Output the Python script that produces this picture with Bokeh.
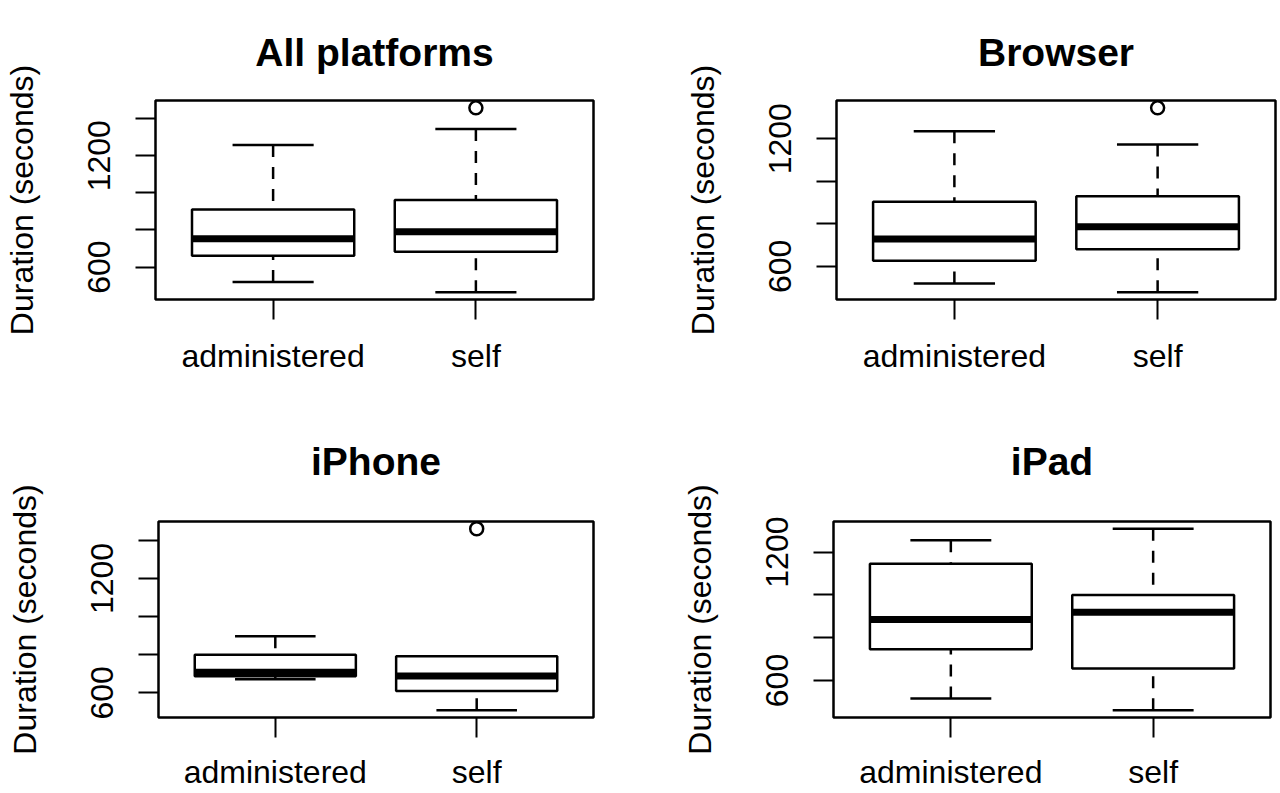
from bokeh.plotting import figure
from bokeh.layouts import column, row
from bokeh.models import Range1d, FixedTicker, ColumnDataSource
from bokeh.embed import file_html
from bokeh.resources import INLINE

# ---------------- data ----------------
groups = ["administered", "self"]
titles = ["All platforms", "Browser", "iPhone", "iPad"]
lower_whisker = [[519, 465], [520, 479], [672, 509], [516, 461]]
q1 = [[661, 683], [627, 680], [687, 610], [746, 656]]
median = [[753, 791], [729, 786], [708, 689], [885, 919]]
q3 = [[910, 962], [904, 930], [800, 792], [1146, 999]]
upper_whisker = [[1258, 1344], [1235, 1173], [897, 792], [1255, 1309]]
outliers = [[[], [1458]], [[], [1345]], [[], [1461]], [[], []]]
y_ticks = [600, 800, 1000, 1200, 1400]
y_tick_labels = {600: "600", 800: "", 1000: "", 1200: "1200", 1400: ""}
y_label = "Duration (seconds)"

FONT = "Liberation Sans"

# layout per panel:
# (width, height, left, right, top, bottom borders, x-label standoff, title standoff)
layouts = [
    (640, 396, 155, 47, 100, 97, 18, 54),
    (638, 396, 196, 3, 100, 97, 18, 54),
    (640, 396, 158, 47, 125, 75, 16, 78),
    (638, 396, 193, 8, 125, 75, 16, 78),
]


def make_panel(i):
    w, h, bl, br, bt, bb, xstand, tstand = layouts[i]
    lw, a, m, b, uw = lower_whisker[i], q1[i], median[i], q3[i], upper_whisker[i]
    outs = outliers[i]
    allv = lw + uw + [v for o in outs for v in o]
    lo, hi = min(allv), max(allv)
    pad = 0.04 * (hi - lo)

    p = figure(width=w, height=h, output_backend="svg", toolbar_location=None,
               x_range=Range1d(0.42, 2.58), y_range=Range1d(lo - pad, hi + pad),
               min_border_left=bl, min_border_right=br, min_border_top=bt,
               min_border_bottom=bb, title=titles[i])
    p.background_fill_color = "white"
    p.border_fill_color = "white"
    p.grid.visible = False
    p.outline_line_color = "black"
    p.outline_line_width = 2.5
    p.title.align = "center"
    p.title.standoff = tstand
    p.title.text_font = FONT
    p.title.text_font_size = "39px"
    p.title.text_font_style = "bold"
    p.title.text_color = "black"

    xs = [1, 2]
    src = ColumnDataSource(dict(
        x=xs, left=[x - 0.4 for x in xs], right=[x + 0.4 for x in xs],
        cl=[x - 0.2 for x in xs], cr=[x + 0.2 for x in xs],
        lw=lw, q1=a, med=m, q3=b, uw=uw))

    # whiskers (dashed), drawn from extremes to the box
    p.segment(x0="x", y0="uw", x1="x", y1="q3", source=src, line_color="black",
              line_width=2.5, line_dash="12 10")
    p.segment(x0="x", y0="lw", x1="x", y1="q1", source=src, line_color="black",
              line_width=2.5, line_dash="12 10")
    # staples
    p.segment(x0="cl", y0="uw", x1="cr", y1="uw", source=src, line_color="black",
              line_width=2.5)
    p.segment(x0="cl", y0="lw", x1="cr", y1="lw", source=src, line_color="black",
              line_width=2.5)
    # boxes
    p.quad(left="left", right="right", bottom="q1", top="q3", source=src,
           fill_color="white", line_color="black", line_width=2.5)
    # medians
    p.segment(x0="left", y0="med", x1="right", y1="med", source=src,
              line_color="black", line_width=7)
    # outliers
    ox = [xs[j] for j in range(2) for _ in outs[j]]
    oy = [v for j in range(2) for v in outs[j]]
    if ox:
        p.scatter(ox, oy, marker="circle", size=13, fill_color="white",
                  line_color="black", line_width=2.5)

    # x axis (bottom)
    xa = p.below[0]
    xa.ticker = FixedTicker(ticks=xs)
    xa.major_label_overrides = {1: groups[0], 2: groups[1]}
    xa.axis_line_color = None
    xa.major_tick_out = 20
    xa.major_tick_in = 0
    xa.minor_tick_out = 0
    xa.minor_tick_in = 0
    xa.major_tick_line_width = 2
    xa.major_tick_line_color = "black"
    xa.major_label_text_font = FONT
    xa.major_label_text_font_size = "32px"
    xa.major_label_text_color = "black"
    xa.major_label_standoff = xstand

    # y axis
    ya = p.left[0]
    ya.ticker = FixedTicker(ticks=y_ticks)
    ya.major_label_overrides = y_tick_labels
    ya.major_label_orientation = "vertical"
    ya.axis_line_color = None
    ya.major_tick_out = 20
    ya.major_tick_in = 0
    ya.minor_tick_out = 0
    ya.minor_tick_in = 0
    ya.major_tick_line_width = 2
    ya.major_tick_line_color = "black"
    ya.major_label_text_font = FONT
    ya.major_label_text_font_size = "32px"
    ya.major_label_text_color = "black"
    ya.major_label_standoff = 25
    ya.axis_label = y_label
    ya.axis_label_text_font = FONT
    ya.axis_label_text_font_size = "32px"
    ya.axis_label_text_font_style = "normal"
    ya.axis_label_text_color = "black"
    ya.axis_label_standoff = 46
    return p


panels = [make_panel(i) for i in range(4)]
layout = column(row(panels[0], panels[1]), row(panels[2], panels[3]))

open("out.html", "w").write(file_html(layout, INLINE))
